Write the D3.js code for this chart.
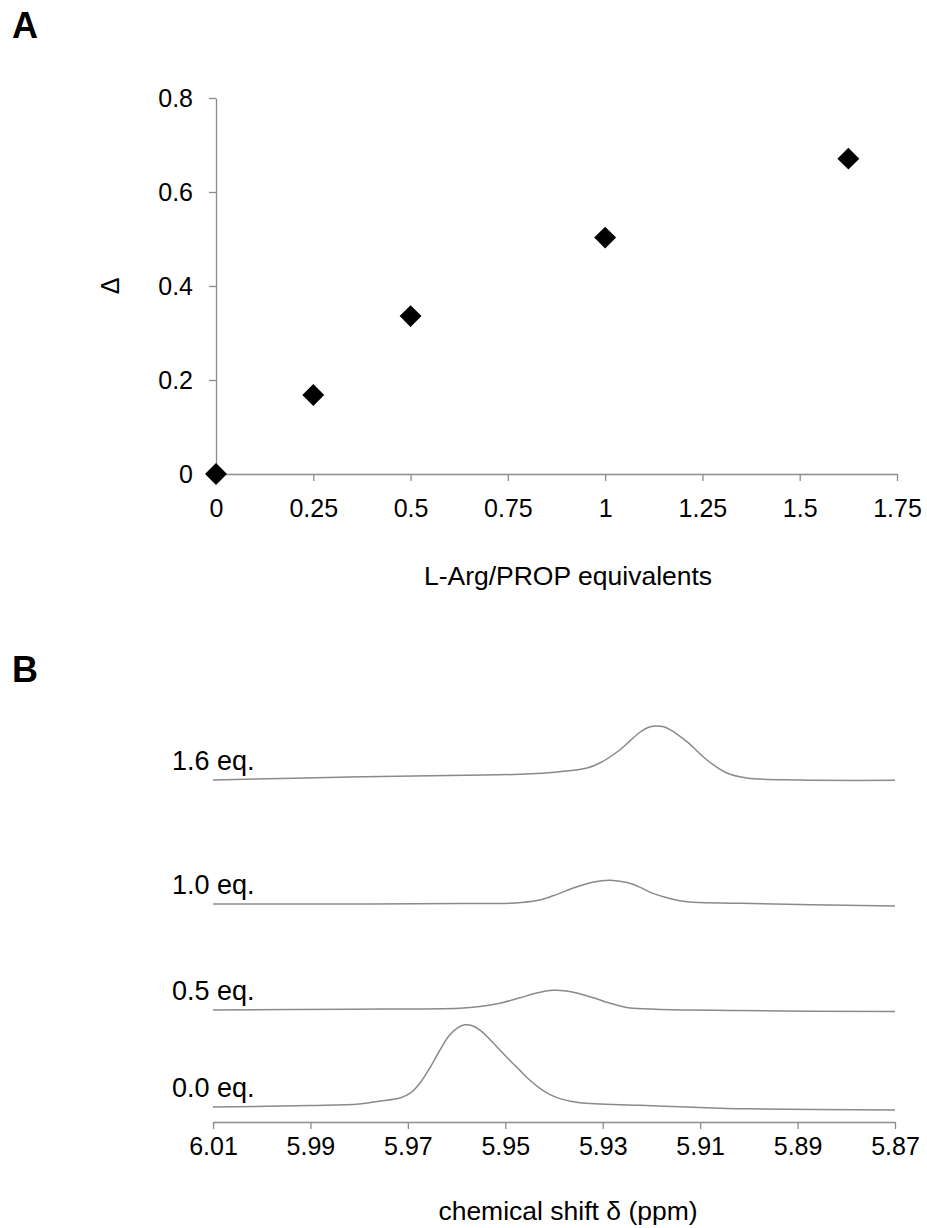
<!DOCTYPE html>
<html>
<head>
<meta charset="utf-8">
<script src="https://cdn.jsdelivr.net/npm/d3@7"></script>
<style>
  body { margin: 0; background: #fff; }
  text { font-family: "Liberation Sans", Arial, sans-serif; fill: #000; }
  .axis path, .axis line { stroke: #8c8c8c; stroke-width: 1.3; }
  .axis text { font-size: 25px; }
  .spec { fill: none; stroke: #8a8a8a; stroke-width: 1.5; }
</style>
</head>
<body>
<svg id="chart" width="927" height="1228"></svg>
<script>
// ---- panel A data: delta vs equivalents
var equiv = [0, 0.25, 0.5, 1, 1.625];
var delta = [0, 0.168, 0.336, 0.503, 0.671];
var xTicksA = [0, 0.25, 0.5, 0.75, 1, 1.25, 1.5, 1.75];
var yTicksA = [0, 0.2, 0.4, 0.6, 0.8];

// ---- panel B data: 1H NMR traces, [ppm, intensity above own baseline]
var specLabels = ["0.0 eq.", "0.5 eq.", "1.0 eq.", "1.6 eq."];
var specOffsets = [0.2, 1.84, 3.6, 5.7];
var spec00 = [[6.01,0.05],[5.99,0.075],[5.98,0.10],[5.9757,0.15],[5.9716,0.20],[5.9695,0.28],[5.9675,0.45],[5.9655,0.70],[5.9634,1.0],[5.9615,1.24],[5.9598,1.37],[5.9583,1.42],[5.9566,1.40],[5.9552,1.33],[5.9532,1.18],[5.9511,1.0],[5.9491,0.83],[5.947,0.66],[5.945,0.50],[5.9429,0.36],[5.9409,0.26],[5.9388,0.19],[5.9347,0.12],[5.9223,0.08],[5.9125,0.05],[5.90,0.02],[5.87,0]];
var spec05 = [[6.01,0.028],[5.9819,0.04],[5.9593,0.057],[5.9552,0.085],[5.9511,0.14],[5.947,0.23],[5.9436,0.31],[5.9402,0.355],[5.9375,0.345],[5.9353,0.31],[5.9319,0.23],[5.9285,0.14],[5.926,0.085],[5.9238,0.057],[5.9018,0.017],[5.87,0]];
var spec10 = [[6.01,0.033],[5.9819,0.033],[5.9593,0.04],[5.948,0.05],[5.9435,0.09],[5.9402,0.17],[5.9353,0.32],[5.9319,0.40],[5.9285,0.43],[5.925,0.39],[5.9223,0.31],[5.9197,0.21],[5.916,0.12],[5.9127,0.07],[5.9018,0.045],[5.87,0]];
var spec16 = [[6.01,0],[5.9819,0.05],[5.9546,0.083],[5.947,0.095],[5.9388,0.138],[5.9332,0.2],[5.9306,0.283],[5.9265,0.5],[5.9243,0.66],[5.9223,0.80],[5.9208,0.87],[5.9193,0.90],[5.9177,0.89],[5.9162,0.84],[5.9145,0.75],[5.9127,0.64],[5.9086,0.333],[5.9045,0.117],[5.9004,0.033],[5.8895,0],[5.87,-0.005]];
var spectra = [spec00, spec05, spec10, spec16];
var xTicksB = [6.01, 5.99, 5.97, 5.95, 5.93, 5.91, 5.89, 5.87];

var svg = d3.select("#chart");

// panel letters
svg.append("text").attr("x", 12).attr("y", 38)
  .style("font-size", "36px").style("font-weight", "bold").text("A");
svg.append("text").attr("x", 12).attr("y", 682)
  .style("font-size", "36px").style("font-weight", "bold").text("B");

// ================= Panel A =================
var xA = d3.scaleLinear().domain([0, 1.75]).range([216, 897]);
var yA = d3.scaleLinear().domain([0, 0.8]).range([474, 98]);

svg.append("g")
  .attr("class", "axis")
  .attr("transform", "translate(216,0)")
  .call(d3.axisLeft(yA).tickValues(yTicksA).tickSize(7).tickSizeOuter(0).tickPadding(16).tickFormat(d3.format("~g")));

svg.append("g")
  .attr("class", "axis")
  .attr("transform", "translate(0,474)")
  .call(d3.axisBottom(xA).tickValues(xTicksA).tickSize(7).tickSizeOuter(0).tickPadding(18).tickFormat(d3.format("~g")));

svg.selectAll(".pt")
  .data(equiv)
  .enter()
.append("path")
  .attr("class", "pt")
  .attr("d", d3.symbol().type(d3.symbolSquare).size(240))
  .attr("transform", function(d, i) { return "translate(" + xA(d) + "," + yA(delta[i]) + ") rotate(45)"; })
  .attr("fill", "#000");

svg.append("text")
  .attr("x", 568).attr("y", 585)
  .attr("text-anchor", "middle")
  .style("font-size", "26.5px")
  .text("L-Arg/PROP equivalents");

svg.append("text")
  .attr("transform", "translate(119,286) rotate(-90)")
  .attr("text-anchor", "middle")
  .style("font-size", "25px")
  .text("Δ");

// ================= Panel B =================
var xB = d3.scaleLinear().domain([6.01, 5.87]).range([213, 895]);
var yB = d3.scaleLinear().domain([0, 7]).range([1122, 702]);

svg.append("g")
  .attr("class", "axis")
  .attr("transform", "translate(0,1122)")
  .call(d3.axisBottom(xB).tickValues(xTicksB).tickSize(7).tickSizeOuter(0).tickPadding(8).tickFormat(d3.format(".2f")));

var line = d3.line()
  .x(function(d) { return xB(d[0]); })
  .curve(d3.curveCatmullRom.alpha(0.5));

spectra.forEach(function(s, i) {
  line.y(function(d) { return yB(d[1] + specOffsets[i]); });
  svg.append("path")
    .datum(s)
    .attr("class", "spec")
    .attr("d", line);

  svg.append("text")
    .attr("x", 172)
    .attr("y", yB(s[0][1] + specOffsets[i]) - 10)
    .style("font-size", "27px")
    .text(specLabels[i]);
});

svg.append("text")
  .attr("x", 568).attr("y", 1220)
  .attr("text-anchor", "middle")
  .style("font-size", "26.5px")
  .text("chemical shift δ (ppm)");
</script>
</body>
</html>
